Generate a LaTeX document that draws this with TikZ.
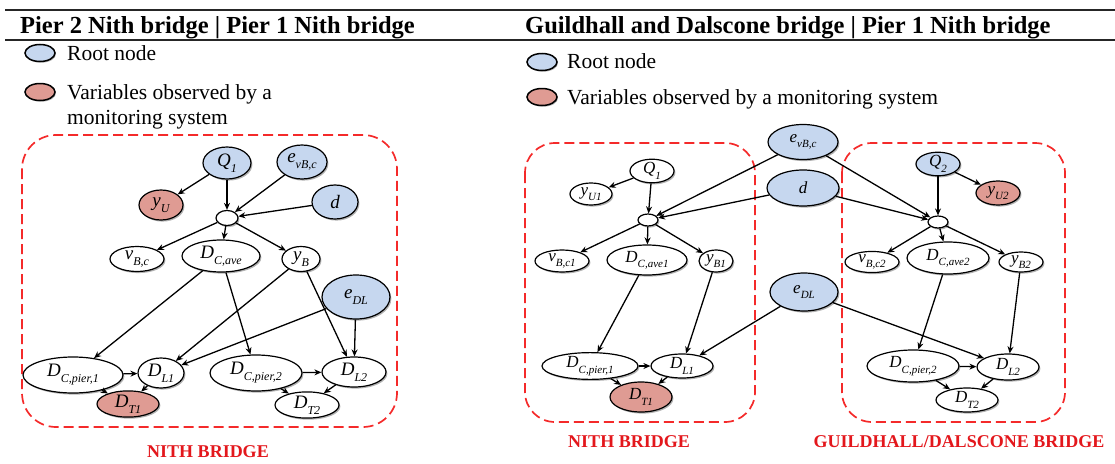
\documentclass[tikz,border=0pt]{standalone}
\usepackage{fontspec}
\setmainfont{Liberation Serif}
\usetikzlibrary{shapes.geometric,arrows.meta,shadows}

% variable name with a lowered subscript, sized for the node text
\newcommand{\vr}[3][12]{#2\raisebox{-0.32em}{\fontsize{#1}{#1}\selectfont #3}}

\definecolor{rootblue}{HTML}{C6D7EF}
\definecolor{obsred}{HTML}{DF9B93}
\definecolor{boxred}{HTML}{F42A2A}
\definecolor{labred}{HTML}{E3171C}

\tikzset{
  x=1pt, y=-1pt,
  var/.style={ellipse, draw=black, line width=1.2pt, fill=white, inner sep=0pt,
    font=\fontsize{19}{19}\selectfont\itshape,
    drop shadow={shadow xshift=1.4pt, shadow yshift=-1.6pt, opacity=0.3, fill=black}},
  svar/.style={var, font=\fontsize{17}{17}\selectfont\itshape},
  root/.style={fill=rootblue},
  obs/.style={fill=obsred},
  sz/.style 2 args={minimum width=#1pt, minimum height=#2pt},
  arr/.style={-{Stealth[length=7pt,width=6pt]}, line width=1.3pt, black},
  groupbox/.style={draw=boxred, line width=1.7pt, dash pattern=on 10pt off 5pt},
  grouplabel/.style={text=labred, font=\fontsize{18}{18}\selectfont\bfseries},
  heading/.style={font=\fontsize{24.5}{24.5}\selectfont\bfseries, inner sep=0pt, anchor=base west},
  legtext/.style={font=\fontsize{21.5}{21.5}\selectfont, inner sep=0pt, anchor=base west},
  legmark/.style={ellipse, draw=black, line width=1.5pt, minimum width=30pt, minimum height=17pt, inner sep=0pt,
    drop shadow={shadow xshift=1pt, shadow yshift=-1.2pt, opacity=0.3, fill=black}}
}

\begin{document}
\begin{tikzpicture}
\useasboundingbox (0,0) rectangle (1115,463);

% header rules and titles
\draw[line width=1.4pt, black!85] (5,10) -- (1115,10);
\draw[line width=1.4pt, black!85] (5,40) -- (1115,40);
\node[heading] (titleL) at (20,33) {Pier 2 Nith bridge | Pier 1 Nith bridge};
\node[heading] (titleR) at (525,33) {Guildhall and Dalscone bridge | Pier 1 Nith bridge};

% legends
\node[legmark, fill=rootblue] (legLa) at (40,53) {};
\node[legtext] (legLat) at (67,60) {Root node};
\node[legmark, fill=obsred] (legLb) at (40,92) {};
\node[legtext] (legLbt) at (67,99) {Variables observed by a};
\node[legtext] (legLbt2) at (67,124) {monitoring system};

\node[legmark, fill=rootblue] (legRa) at (542,62) {};
\node[legtext] (legRat) at (567,68) {Root node};
\node[legmark, fill=obsred] (legRb) at (542,97) {};
\node[legtext] (legRbt) at (567,104) {Variables observed by a monitoring system};

% ---------------- left network: Nith bridge, two piers ----------------
\draw[groupbox, rounded corners=34pt] (22,135) rectangle (397,427);
\node[grouplabel] (labL) at (208,452) {NITH BRIDGE};

\node[var, root, sz={48}{32}] (LQ) at (227,163) {\vr{Q}{1}};
\node[var, root, sz={50}{34}] (LevB) at (302,162) {\vr{e}{vB,c}};
\node[var, root, sz={46}{34}] (Ld) at (335,202) {d};
\node[var, obs, sz={44}{30}] (LyU) at (161,205) {\vr{y}{U}};
\node[var, sz={22}{15}] (Ls) at (227,218) {};
\node[var, sz={54}{25}] (LvB) at (137,259) {\vr{v}{B,c}};
\node[var, sz={78}{32}] (LDave) at (221,256) {\vr{D}{C,ave}};
\node[var, sz={38}{25}] (LyB) at (301,259) {\vr{y}{B}};
\node[var, root, sz={68}{44}] (LeDL) at (356,297) {\vr{e}{DL}};
\node[var, sz={100}{36}] (LDp1) at (73,375) {\vr{D}{C,pier,1}};
\node[var, sz={46}{30}] (LDL1) at (161,373) {\vr{D}{L1}};
\node[var, sz={92}{36}] (LDp2) at (256,373) {\vr{D}{C,pier,2}};
\node[var, sz={64}{30}] (LDL2) at (354,372) {\vr{D}{L2}};
\node[var, obs, sz={62}{26}] (LDT1) at (128,404) {\vr{D}{T1}};
\node[var, sz={64}{25}] (LDT2) at (307,405) {\vr{D}{T2}};

\draw[arr] (LQ) -- (LyU);
\draw[arr] (LQ) -- (Ls);
\draw[arr] (LevB) -- (Ls);
\draw[arr] (Ld) -- (Ls);
\draw[arr] (Ls) -- (LvB);
\draw[arr] (Ls) -- (LDave);
\draw[arr] (Ls) -- (LyB);
\draw[arr] (LDave) -- (LDp1);
\draw[arr] (LDave) -- (LDp2);
\draw[arr] (LyB) -- (LDL1);
\draw[arr] (LyB) -- (LDL2);
\draw[arr] (LeDL) -- (LDL1);
\draw[arr] (LeDL) -- (LDL2);
\draw[arr] (LDp1) -- (LDL1);
\draw[arr] (LDp2) -- (LDL2);
\draw[arr] (LDp1) -- (LDT1);
\draw[arr] (LDL1) -- (LDT1);
\draw[arr] (LDp2) -- (LDT2);
\draw[arr] (LDL2) -- (LDT2);

% ---------------- right network: Nith and Guildhall/Dalscone ----------------
\draw[groupbox, rounded corners=30pt] (525,143) rectangle (755,422);
\draw[groupbox, rounded corners=30pt] (842,143) rectangle (1065,422);
\node[grouplabel] (labA) at (629,442) {NITH BRIDGE};
\node[grouplabel] (labB) at (959,442) {GUILDHALL/DALSCONE BRIDGE};

% shared root variables
\node[svar, root, sz={70}{35}] (SevB) at (803,142) {\vr[11]{e}{vB,c}};
\node[svar, root, sz={72}{36}] (Sd) at (803,188) {d};
\node[svar, root, sz={68}{38}] (SeDL) at (804,292) {\vr[11]{e}{DL}};

% Nith bridge, pier 1
\node[svar, sz={44}{22}] (AQ) at (652,171) {\vr[11]{Q}{1}};
\node[svar, sz={42}{22}] (AyU) at (591,194) {\vr[11]{y}{U1}};
\node[svar, sz={20}{12}] (As) at (648,220) {};
\node[svar, sz={54}{22}] (AvB) at (562,261) {\vr[11]{v}{B,c1}};
\node[svar, sz={80}{30}] (ADave) at (647,260) {\vr[11]{D}{C,ave1}};
\node[svar, sz={34}{22}] (AyB) at (716,261) {\vr[11]{y}{B1}};
\node[svar, sz={96}{24}] (ADp1) at (590,366) {\vr[11]{D}{C,pier,1}};
\node[svar, sz={62}{24}] (ADL1) at (682,366) {\vr[11]{D}{L1}};
\node[svar, obs, sz={62}{30}] (ADT1) at (641,397) {\vr[11]{D}{T1}};

% Guildhall/Dalscone bridge
\node[svar, root, sz={44}{22}] (BQ) at (938,164) {\vr[11]{Q}{2}};
\node[svar, obs, sz={44}{24}] (ByU) at (998,193) {\vr[11]{y}{U2}};
\node[svar, sz={20}{12}] (Bs) at (938,222) {};
\node[svar, sz={54}{20}] (BvB) at (872,262) {\vr[11]{v}{B,c2}};
\node[svar, sz={82}{32}] (BDave) at (948,258) {\vr[11]{D}{C,ave2}};
\node[svar, sz={44}{20}] (ByB) at (1021,262) {\vr[11]{y}{B2}};
\node[svar, sz={92}{32}] (BDp2) at (913,366) {\vr[11]{D}{C,pier,2}};
\node[svar, sz={62}{26}] (BDL2) at (1008,367) {\vr[11]{D}{L2}};
\node[svar, sz={62}{24}] (BDT2) at (967,400) {\vr[11]{D}{T2}};

\draw[arr] (AQ) -- (AyU);
\draw[arr] (AQ) -- (As);
\draw[arr] (SevB) -- (As);
\draw[arr] (Sd) -- (As);
\draw[arr] (As) -- (AvB);
\draw[arr] (As) -- (ADave);
\draw[arr] (As) -- (AyB);
\draw[arr] (ADave) -- (ADp1);
\draw[arr] (AyB) -- (ADL1);
\draw[arr] (SeDL) -- (ADL1);
\draw[arr] (ADp1) -- (ADL1);
\draw[arr] (ADp1) -- (ADT1);
\draw[arr] (ADL1) -- (ADT1);

\draw[arr] (BQ) -- (ByU);
\draw[arr] (BQ) -- (Bs);
\draw[arr] (SevB) -- (Bs);
\draw[arr] (Sd) -- (Bs);
\draw[arr] (Bs) -- (BvB);
\draw[arr] (Bs) -- (BDave);
\draw[arr] (Bs) -- (ByB);
\draw[arr] (BDave) -- (BDp2);
\draw[arr] (ByB) -- (BDL2);
\draw[arr] (SeDL) -- (BDL2);
\draw[arr] (BDp2) -- (BDL2);
\draw[arr] (BDp2) -- (BDT2);
\draw[arr] (BDL2) -- (BDT2);
\end{tikzpicture}
\end{document}
